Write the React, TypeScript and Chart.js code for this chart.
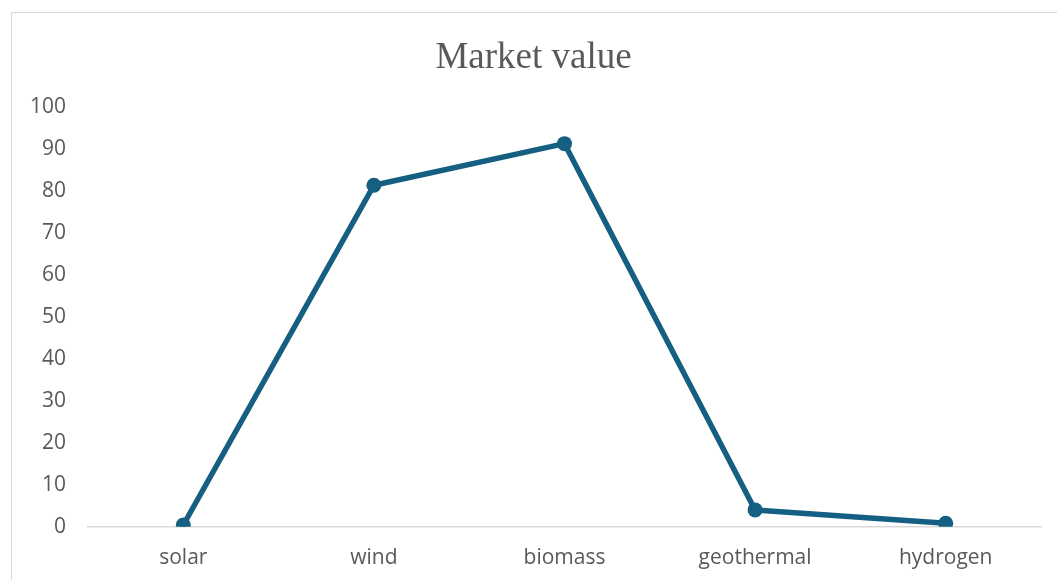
import React, { useEffect, useRef } from "react";
import { Chart, registerables } from "chart.js";

Chart.register(...registerables);

// Market value per renewable source
const categories = ["solar", "wind", "biomass", "geothermal", "hydrogen"];
const marketValues = [0.4, 81.3, 91.2, 4.0, 0.8];
const yTickMin = 0;
const yTickMax = 100;
const yTickStep = 10;

const LINE_COLOR = "#156082";
const TEXT_COLOR = "#595959";
const AXIS_COLOR = "#d9d9d9";

export default function App() {
  const canvasRef = useRef<HTMLCanvasElement | null>(null);

  useEffect(() => {
    const canvas = canvasRef.current;
    if (!canvas) return;
    const chart = new Chart(canvas, {
      type: "line",
      data: {
        labels: categories,
        datasets: [
          {
            label: "Market value",
            data: marketValues,
            borderColor: LINE_COLOR,
            backgroundColor: LINE_COLOR,
            borderWidth: 5.5,
            borderJoinStyle: "round",
            borderCapStyle: "round",
            pointRadius: 7.5,
            pointHoverRadius: 7.5,
            pointBorderWidth: 0,
            pointBackgroundColor: LINE_COLOR,
            tension: 0,
          },
        ],
      },
      options: {
        responsive: false,
        animation: false,
        layout: { padding: { left: 26, right: 16, top: 0, bottom: 0 } },
        plugins: {
          legend: { display: false },
          tooltip: { enabled: false },
          title: {
            display: true,
            text: "Market value",
            color: TEXT_COLOR,
            font: { family: "'Liberation Serif', 'DejaVu Serif', serif", size: 37, weight: "normal" },
            padding: { top: 36, bottom: 26.3 },
          },
        },
        scales: {
          x: {
            offset: true,
            grid: { display: false, drawTicks: false },
            border: { display: true, color: AXIS_COLOR, width: 1.5 },
            ticks: {
              color: TEXT_COLOR,
              font: { family: "'Open Sans', sans-serif", size: 21 },
              padding: 19,
              maxRotation: 0,
              autoSkip: false,
            },
            afterFit: (scale: any) => {
              scale.height = 53.3;
            },
          },
          y: {
            min: yTickMin,
            max: yTickMax,
            grid: { display: false, drawTicks: false },
            border: { display: false },
            ticks: {
              stepSize: yTickStep,
              color: TEXT_COLOR,
              font: { family: "'Open Sans', sans-serif", size: 21 },
              padding: 22,
            },
            afterFit: (scale: any) => {
              scale.width = 62;
            },
          },
        },
      },
    });
    return () => chart.destroy();
  }, []);

  return (
    <div>
      <div
        style={{
          position: "fixed",
          left: 11,
          top: 12,
          width: 1100,
          height: 620,
          borderLeft: `1.5px solid ${AXIS_COLOR}`,
          borderTop: `1.5px solid ${AXIS_COLOR}`,
          boxSizing: "border-box",
        }}
      />
      <canvas
        ref={canvasRef}
        width={1057}
        height={580}
        style={{ position: "fixed", left: 0, top: 0, width: 1057, height: 580 }}
      />
    </div>
  );
}
